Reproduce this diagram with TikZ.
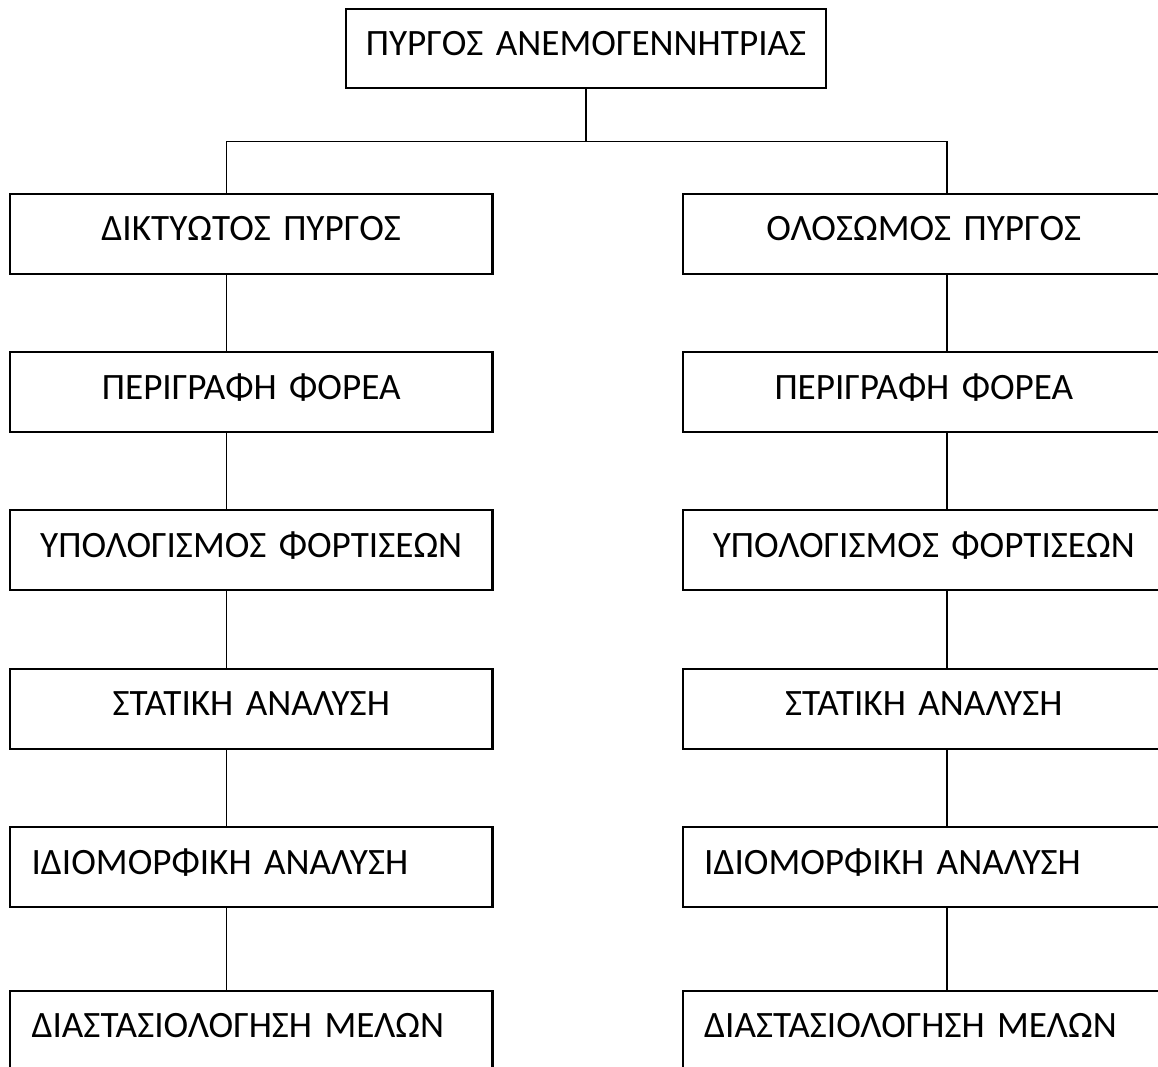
\documentclass[tikz,border=0pt]{standalone}
\usepackage{fontspec}
\setmainfont{Carlito}
\begin{document}
\begin{tikzpicture}[x=1pt,y=-1pt,
  box/.style={draw, line width=2.2pt, rectangle, minimum height=80pt, inner xsep=21.6pt, inner ysep=0pt,
    text height=22.5pt, text depth=8.5pt, font=\fontsize{37.2}{42}\selectfont},
  cbox/.style={box, text width=439.3pt, align=center},
  lbox/.style={box, text width=439.3pt, align=left},
  conn/.style={line width=1.6pt}]
\useasboundingbox (0,0) rectangle (1158,1066);
\clip (0,0) rectangle (1158,1066);
\coordinate (lx) at (226.5,0);
\coordinate (rx) at (947,0);
\coordinate (hy) at (0,141.3);

\node[cbox, minimum height=79.3pt, inner xsep=4pt, text width=472pt, text depth=9.5pt] (top) at (586,48.7) {ΠΥΡΓΟΣ ΑΝΕΜΟΓΕΝΝΗΤΡΙΑΣ};

\node[cbox] (l1) at (251.25,233.7) {ΔΙΚΤΥΩΤΟΣ ΠΥΡΓΟΣ};
\node[cbox] (l2) at (251.25,392) {ΠΕΡΙΓΡΑΦΗ ΦΟΡΕΑ};
\node[cbox] (l3) at (251.25,550.3) {ΥΠΟΛΟΓΙΣΜΟΣ ΦΟΡΤΙΣΕΩΝ};
\node[cbox] (l4) at (251.25,708.7) {ΣΤΑΤΙΚΗ ΑΝΑΛΥΣΗ};
\node[lbox] (l5) at (251.25,867) {ΙΔΙΟΜΟΡΦΙΚΗ ΑΝΑΛΥΣΗ};
\node[lbox] (l6) at (251.25,1030.7) {ΔΙΑΣΤΑΣΙΟΛΟΓΗΣΗ ΜΕΛΩΝ};

\node[cbox] (r1) at (923.85,233.7) {ΟΛΟΣΩΜΟΣ ΠΥΡΓΟΣ};
\node[cbox] (r2) at (923.85,392) {ΠΕΡΙΓΡΑΦΗ ΦΟΡΕΑ};
\node[cbox] (r3) at (923.85,550.3) {ΥΠΟΛΟΓΙΣΜΟΣ ΦΟΡΤΙΣΕΩΝ};
\node[cbox] (r4) at (923.85,708.7) {ΣΤΑΤΙΚΗ ΑΝΑΛΥΣΗ};
\node[lbox] (r5) at (923.85,867) {ΙΔΙΟΜΟΡΦΙΚΗ ΑΝΑΛΥΣΗ};
\node[lbox] (r6) at (923.85,1030.7) {ΔΙΑΣΤΑΣΙΟΛΟΓΗΣΗ ΜΕΛΩΝ};

\draw[conn] (top.south) -- (top.south |- hy);
\draw[conn] (l1.north -| lx) -- (lx |- hy) -- (rx |- hy) -- (r1.north -| rx);
\foreach \a/\b in {1/2,2/3,3/4,4/5,5/6}{
  \draw[conn] (l\a.south -| lx) -- (l\b.north -| lx);
  \draw[conn] (r\a.south -| rx) -- (r\b.north -| rx);
}
\end{tikzpicture}
\end{document}
